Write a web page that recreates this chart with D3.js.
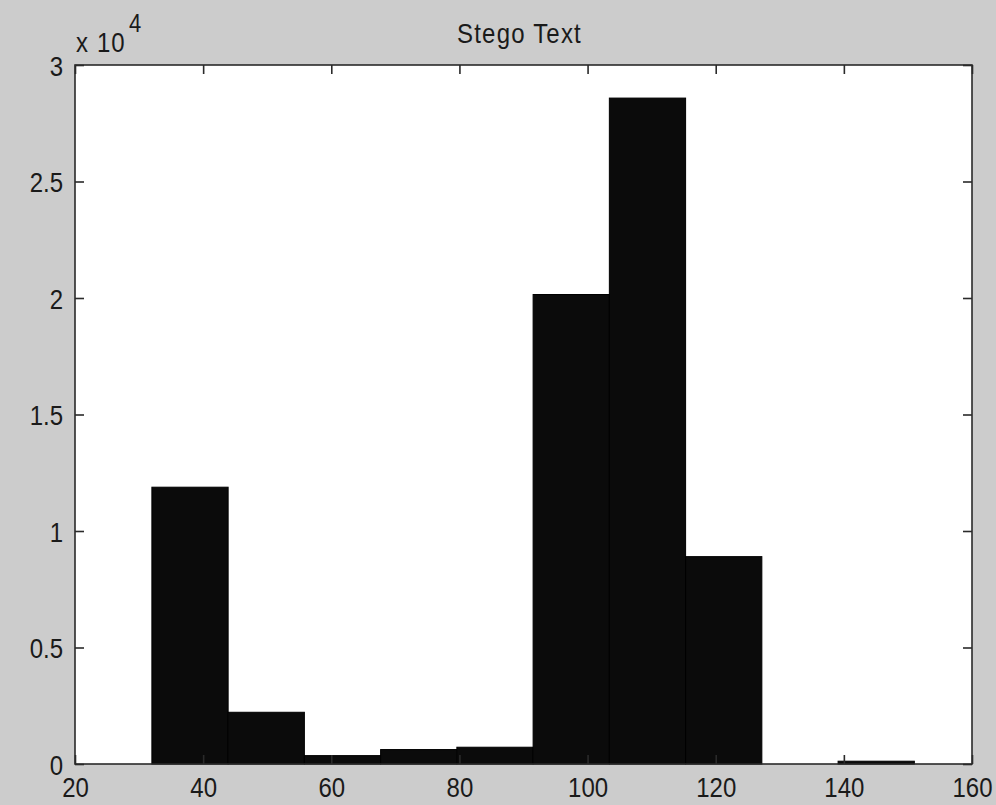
<!DOCTYPE html>
<html><head><meta charset="utf-8">
<script src="https://cdn.jsdelivr.net/npm/d3@7"></script>
<style>
html,body{margin:0;padding:0;background:#cccccc;}
svg{display:block;}
text{font-family:"Liberation Sans",Arial,sans-serif;fill:#1a1a1a;}
</style></head>
<body>
<svg id="c" width="996" height="805"></svg>
<script>
const title = "Stego Text";
const binEdges = [32, 43.9, 55.8, 67.7, 79.6, 91.5, 103.4, 115.3, 127.2, 139.1, 151];
const counts = [11880, 2220, 360, 620, 720, 20150, 28580, 8900, 0, 120];
const xTicks = [20, 40, 60, 80, 100, 120, 140, 160];
const yTicks = [0, 5000, 10000, 15000, 20000, 25000, 30000];
const yTickLabels = ["0", "0.5", "1", "1.5", "2", "2.5", "3"];

const W = 996, H = 805;
const m = {left: 75, right: 24, top: 65, bottom: 41};
const sy = 1.16;   // vertical stretch of the original bitmap fonts
const fs = 24;
const svg = d3.select("#c");
svg.append("rect").attr("width", W).attr("height", H).attr("fill", "#cccccc");

const x = d3.scaleLinear().domain([20, 160]).range([m.left, W - m.right]);
const y = d3.scaleLinear().domain([0, 30000]).range([H - m.bottom, m.top]);

svg.append("rect").attr("x", x(20)).attr("y", y(30000))
  .attr("width", x(160) - x(20)).attr("height", y(0) - y(30000)).attr("fill", "#ffffff");

const bins = counts.map((c, i) => ({x0: binEdges[i], x1: binEdges[i + 1], c}));
svg.append("g").selectAll("rect").data(bins.filter(d => d.c > 0)).join("rect")
  .attr("x", d => x(d.x0)).attr("y", d => y(d.c))
  .attr("width", d => x(d.x1) - x(d.x0)).attr("height", d => y(0) - y(d.c))
  .attr("fill", "#0b0b0b").attr("stroke", "#000").attr("stroke-width", 1);

const tl = 9;
const axisCol = "#2a2a2a";
svg.append("rect").attr("x", x(20)).attr("y", y(30000))
  .attr("width", x(160) - x(20)).attr("height", y(0) - y(30000))
  .attr("fill", "none").attr("stroke", axisCol).attr("stroke-width", 1.6);

const xb = svg.append("g").attr("transform", `translate(0,${y(0)})`)
  .call(d3.axisBottom(x).tickValues(xTicks).tickSizeInner(-tl).tickSizeOuter(0));
const xt = svg.append("g").attr("transform", `translate(0,${y(30000)})`)
  .call(d3.axisTop(x).tickValues(xTicks).tickSizeInner(-tl).tickSizeOuter(0).tickFormat(""));
const yl = svg.append("g").attr("transform", `translate(${x(20)},0)`)
  .call(d3.axisLeft(y).tickValues(yTicks).tickSizeInner(-tl).tickSizeOuter(0)
    .tickFormat((d, i) => yTickLabels[i]).tickPadding(tl + 3));
const yr = svg.append("g").attr("transform", `translate(${x(160)},0)`)
  .call(d3.axisRight(y).tickValues(yTicks).tickSizeInner(-tl).tickSizeOuter(0).tickFormat(""));
[xb, xt, yl, yr].forEach(g => {
  g.select(".domain").remove();
  g.selectAll(".tick line").attr("stroke", axisCol).attr("stroke-width", 1.6);
  g.selectAll(".tick text").attr("font-size", fs).attr("fill", "#1a1a1a")
    .attr("font-family", '"Liberation Sans",Arial,sans-serif');
});
xb.selectAll(".tick text").attr("y", 33 / sy).attr("dy", 0).attr("transform", `scale(1,${sy})`);
yl.selectAll(".tick text").attr("dy", "0.36em").attr("transform", `scale(1,${sy})`);

// exponent label
const eg = svg.append("g").attr("transform", `translate(${x(20) + 1},52) scale(1,${sy})`);
eg.append("text").attr("x", 0).attr("y", 0).attr("font-size", fs).text("x");
eg.append("text").attr("x", 21).attr("y", 0).attr("font-size", fs).attr("letter-spacing", 1).text("10");
eg.append("text").attr("x", 53).attr("y", -20 / sy).attr("font-size", fs - 2).text("4");

svg.append("g").attr("transform", `translate(${(x(20) + x(160)) / 2 - 4},43) scale(1,${sy})`)
  .append("text").attr("text-anchor", "middle").attr("font-size", fs)
  .attr("letter-spacing", 1.2).text(title);
</script>
</body></html>
